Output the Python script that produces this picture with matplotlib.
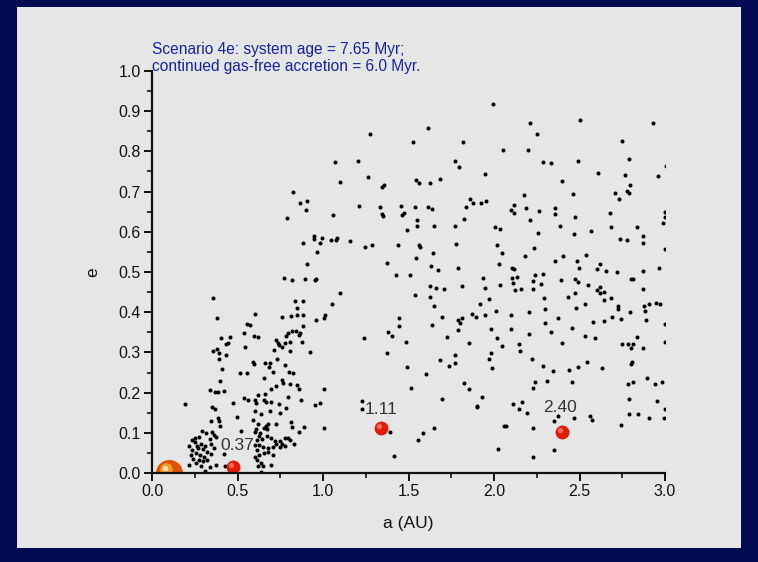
import numpy as np
import matplotlib.pyplot as plt
from matplotlib.patches import Rectangle
from matplotlib.transforms import offset_copy

plt.rcParams['font.family'] = ['Liberation Sans', 'DejaVu Sans']

# embryos / planetesimals: semi-major axis (AU) and eccentricity
a_small = [
    # 2.0 - 3.0 AU, e > 0.5
    2.21, 2.50, 2.93, 2.25, 2.75, 2.055, 2.197, 2.79, 2.287, 2.333, 2.491, 2.606,
    2.961, 2.766, 2.793, 2.396, 2.706, 2.733, 2.778, 2.791, 2.464, 2.173, 2.117,
    2.101, 2.119, 2.189, 2.265, 2.357, 2.355, 2.472, 2.212, 2.676, 2.998, 2.998,
    2.99, 2.008, 2.037, 2.388, 2.686, 2.836, 2.259, 2.47, 2.565, 2.869, 2.735,
    2.778, 2.869, 2.018, 2.232, 2.049, 2.179, 2.405, 2.536, 2.357, 2.485, 2.999,
    2.031, 2.105, 2.117, 2.618, 2.495, 2.604, 2.655, 2.721, 2.873, 2.967, 3.005,
    # 2.0 - 3.0 AU, e < 0.5
    2.103, 2.136, 2.238, 2.285, 2.035, 2.109, 2.23, 2.273, 2.123, 2.156, 2.23,
    2.39, 2.474, 2.493, 2.552, 2.80, 2.813, 2.871, 2.604, 2.62, 2.62, 2.643,
    2.643, 2.686, 2.294, 2.435, 2.474, 2.01, 2.099, 2.203, 2.30, 2.478, 2.532,
    2.723, 2.725, 2.795, 2.877, 2.906, 2.947, 2.973, 2.885, 2.372, 2.30, 2.579,
    2.643, 2.688, 2.745, 2.889, 2.998, 2.097, 2.331, 2.454, 2.019, 2.203, 2.532,
    2.593, 2.834, 2.047, 2.144, 2.396, 2.152, 2.749, 2.782, 2.815, 2.80, 2.869,
    2.998, 2.224, 2.287, 2.343, 2.439, 2.491, 2.546, 2.632, 2.809, 2.803, 2.238,
    2.23, 2.31, 2.454, 2.782, 2.811, 2.895, 2.942, 2.982, 2.788, 2.951, 2.111,
    2.162, 2.146, 2.195, 2.374, 2.351, 2.47, 2.561, 2.573, 2.743, 2.789, 2.842,
    2.906, 2.992, 2.998, 2.057, 2.07, 2.228, 2.021, 2.351, 2.228,
    # 1.0 - 2.0 AU, e > 0.5
    1.992, 1.275, 1.614, 1.528, 1.819, 1.070, 1.205, 1.77, 1.797, 1.945, 1.099,
    1.263, 1.347, 1.357, 1.544, 1.563, 1.624, 1.682, 1.862, 1.877, 1.926, 1.953,
    1.836, 1.827, 1.209, 1.333, 1.347, 1.349, 1.454, 1.462, 1.476, 1.54, 1.616,
    1.637, 1.552, 1.548, 1.651, 1.774, 1.489, 1.058, 1.045, 1.074, 1.084, 1.16,
    1.248, 1.287, 1.437, 1.559, 1.565, 1.78, 1.643, 1.372, 1.546, 1.63, 1.673,
    1.789,
    # 1.0 - 2.0 AU, e < 0.5
    1.427, 1.509, 1.097, 1.053, 1.01, 1.004, 1.238, 1.38, 1.405, 1.444, 1.442,
    1.483, 1.372, 1.489, 1.515, 1.60, 1.538, 1.628, 1.663, 1.706, 1.628, 1.647,
    1.815, 1.938, 1.947, 1.971, 1.92, 1.698, 1.637, 1.789, 1.801, 1.811, 1.871,
    1.893, 1.947, 1.788, 1.725, 1.852, 1.982, 1.98, 1.969, 1.99, 1.772, 1.686,
    1.739, 1.774, 1.825, 1.856, 1.93, 1.903, 1.899, 1.698, 1.008, 1.008, 1.226,
    1.226, 1.394, 1.585, 1.647, 1.554, 1.415,
    # 0.0 - 1.0 AU, e > 0.5
    0.823, 0.867, 0.904, 0.903, 0.789, 0.947, 0.947, 0.994, 0.981, 0.885, 0.963,
    0.906,
    # 0.0 - 1.0 AU, e < 0.5
    0.772, 0.817, 0.897, 0.953, 0.959, 0.357, 0.838, 0.881, 0.85, 0.602, 0.38,
    0.76, 0.811, 0.85, 0.881, 0.957, 0.556, 0.571, 0.885, 0.538, 0.595, 0.618,
    0.795, 0.819, 0.84, 0.864, 0.858, 0.402, 0.458, 0.433, 0.442, 0.382, 0.359,
    0.39, 0.433, 0.392, 0.542, 0.725, 0.735, 0.713, 0.741, 0.786, 0.776, 0.807,
    0.805, 0.875, 0.924, 0.76, 0.593, 0.596, 0.663, 0.688, 0.682, 0.731, 0.78,
    0.801, 0.827, 0.71, 0.515, 0.554, 0.411, 0.40, 0.655, 0.76, 0.766, 0.807,
    0.85, 0.858, 0.727, 0.698, 0.62, 0.659, 0.339, 0.366, 0.386, 0.421, 0.538,
    0.563, 0.474, 0.60, 0.61, 0.657, 0.665, 0.694, 0.745, 0.782, 0.795, 0.873,
    0.951, 0.982, 0.191, 0.353, 0.37, 0.60, 0.637, 0.692, 0.747, 0.384, 0.499,
    0.343, 0.39, 0.40, 0.593, 0.622, 0.667, 0.68, 0.725, 0.815, 0.817, 0.889,
    0.86, 0.655, 0.673, 0.606, 0.604, 0.632, 0.673, 0.519, 0.29, 0.316, 0.351,
    0.363, 0.374, 0.253, 0.273, 0.337, 0.234, 0.25, 0.214, 0.261, 0.287, 0.312,
    0.347, 0.363, 0.236, 0.267, 0.296, 0.324, 0.343, 0.23, 0.257, 0.279, 0.306,
    0.24, 0.273, 0.296, 0.322, 0.214, 0.255, 0.288, 0.312, 0.337, 0.376, 0.421,
    0.425, 0.624, 0.612, 0.643, 0.602, 0.628, 0.647, 0.614, 0.628, 0.653, 0.60,
    0.616, 0.637, 0.622, 0.647, 0.637, 0.694, 0.698, 0.721, 0.747, 0.727, 0.758,
    0.78, 0.793, 0.805, 0.828, 0.68, 0.71, 0.68, 0.776, 0.749, 0.706,
]
e_small = [
    0.871, 0.878, 0.870, 0.844, 0.825, 0.803, 0.804, 0.781, 0.773, 0.770, 0.777, 0.747,
    0.739, 0.742, 0.716, 0.727, 0.696, 0.682, 0.702, 0.697, 0.695, 0.692, 0.667,
    0.654, 0.648, 0.658, 0.651, 0.660, 0.644, 0.637, 0.629, 0.647, 0.649, 0.638,
    0.623, 0.613, 0.606, 0.615, 0.612, 0.613, 0.597, 0.595, 0.601, 0.590, 0.582,
    0.579, 0.572, 0.568, 0.560, 0.547, 0.539, 0.541, 0.542, 0.527, 0.527, 0.558,
    0.520, 0.510, 0.507, 0.520, 0.509, 0.507, 0.502, 0.499, 0.502, 0.511, 0.764,
    0.486, 0.488, 0.493, 0.495, 0.468, 0.472, 0.477, 0.469, 0.454, 0.457, 0.457,
    0.481, 0.483, 0.474, 0.468, 0.482, 0.483, 0.458, 0.454, 0.463, 0.447, 0.450,
    0.430, 0.436, 0.436, 0.437, 0.449, 0.403, 0.392, 0.400, 0.409, 0.410, 0.420,
    0.415, 0.407, 0.401, 0.415, 0.420, 0.424, 0.421, 0.402, 0.386, 0.372, 0.376,
    0.379, 0.388, 0.384, 0.381, 0.371, 0.359, 0.350, 0.360, 0.337, 0.345, 0.342,
    0.335, 0.338, 0.316, 0.321, 0.323, 0.303, 0.321, 0.321, 0.320, 0.310, 0.311,
    0.325, 0.283, 0.266, 0.254, 0.255, 0.264, 0.276, 0.260, 0.276, 0.271, 0.226,
    0.212, 0.230, 0.227, 0.221, 0.227, 0.237, 0.221, 0.227, 0.183, 0.179, 0.172,
    0.177, 0.158, 0.150, 0.141, 0.129, 0.138, 0.143, 0.132, 0.120, 0.148, 0.147,
    0.138, 0.138, 0.158, 0.118, 0.117, 0.111, 0.060, 0.056, 0.039,
    0.918, 0.844, 0.859, 0.824, 0.823, 0.773, 0.776, 0.775, 0.760, 0.744, 0.723,
    0.737, 0.711, 0.716, 0.729, 0.722, 0.721, 0.731, 0.681, 0.671, 0.672, 0.677,
    0.662, 0.632, 0.664, 0.661, 0.644, 0.640, 0.663, 0.643, 0.646, 0.661, 0.661,
    0.656, 0.630, 0.614, 0.614, 0.614, 0.604, 0.641, 0.580, 0.580, 0.584, 0.577,
    0.561, 0.568, 0.568, 0.568, 0.563, 0.570, 0.548, 0.522, 0.535, 0.514, 0.504,
    0.509,
    0.493, 0.493, 0.448, 0.421, 0.392, 0.386, 0.336, 0.351, 0.342, 0.386, 0.365,
    0.325, 0.299, 0.263, 0.212, 0.247, 0.442, 0.464, 0.459, 0.457, 0.437, 0.415,
    0.466, 0.485, 0.459, 0.434, 0.421, 0.388, 0.367, 0.380, 0.374, 0.386, 0.395,
    0.389, 0.393, 0.355, 0.339, 0.323, 0.359, 0.299, 0.284, 0.260, 0.294, 0.280,
    0.267, 0.273, 0.225, 0.209, 0.188, 0.167, 0.163, 0.184, 0.208, 0.113, 0.178,
    0.160, 0.103, 0.100, 0.111, 0.081, 0.043,
    0.699, 0.672, 0.676, 0.655, 0.634, 0.589, 0.583, 0.584, 0.571, 0.571, 0.550,
    0.521,
    0.485, 0.480, 0.482, 0.480, 0.483, 0.435, 0.428, 0.428, 0.410, 0.396, 0.386,
    0.389, 0.391, 0.392, 0.393, 0.380, 0.371, 0.369, 0.365, 0.348, 0.340, 0.339,
    0.349, 0.354, 0.354, 0.348, 0.344, 0.337, 0.339, 0.320, 0.323, 0.309, 0.304,
    0.299, 0.294, 0.284, 0.313, 0.330, 0.324, 0.305, 0.318, 0.342, 0.323, 0.326,
    0.303, 0.325, 0.301, 0.314, 0.276, 0.271, 0.274, 0.274, 0.264, 0.284, 0.269,
    0.252, 0.250, 0.251, 0.250, 0.249, 0.259, 0.229, 0.236, 0.232, 0.224, 0.222,
    0.220, 0.208, 0.216, 0.208, 0.195, 0.197, 0.206, 0.201, 0.201, 0.204, 0.187,
    0.181, 0.174, 0.181, 0.174, 0.182, 0.177, 0.176, 0.172, 0.162, 0.188, 0.182,
    0.169, 0.173, 0.172, 0.165, 0.158, 0.155, 0.146, 0.153, 0.149, 0.138, 0.140,
    0.129, 0.129, 0.118, 0.131, 0.122, 0.117, 0.122, 0.122, 0.126, 0.114, 0.114,
    0.103, 0.113, 0.109, 0.110, 0.103, 0.100, 0.092, 0.104, 0.104, 0.099, 0.102,
    0.095, 0.090, 0.087, 0.089, 0.085, 0.081, 0.076, 0.068, 0.068, 0.072, 0.068,
    0.071, 0.063, 0.056, 0.061, 0.060, 0.053, 0.048, 0.045, 0.049, 0.045, 0.041,
    0.034, 0.032, 0.030, 0.033, 0.019, 0.024, 0.017, 0.005, 0.016, 0.021, 0.048,
    0.018, 0.092, 0.081, 0.085, 0.070, 0.069, 0.065, 0.056, 0.046, 0.049, 0.039,
    0.032, 0.026, 0.017, 0.017, 0.002, 0.019, 0.086, 0.079, 0.079, 0.071, 0.072,
    0.088, 0.088, 0.081, 0.072, 0.063, 0.065, 0.052, 0.068, 0.064, 0.044,
]

# surviving planets (labelled with their masses)
planet_a = [0.472, 1.339, 2.396]
planet_e = [0.014, 0.113, 0.102]
planet_labels = ['0.37', '1.11', '2.40']
label_offsets = [(-12, 17), (-16, 14), (-19, 20)]  # pixels

# the gas giant sitting at the inner edge
giant_a = [0.10]
giant_e = [0.0]

fig = plt.figure(figsize=(7.58, 5.62), dpi=100, facecolor='#020a52')
fig.patches.append(Rectangle((17 / 758, 14 / 562), 724 / 758, 541 / 562,
                             transform=fig.transFigure, facecolor='#e6e6e6',
                             edgecolor='none', zorder=-10))

ax = fig.add_axes([152 / 758, 1 - 473 / 562, 513 / 758, 402 / 562])
ax.set_facecolor('none')

ax.plot(a_small, e_small, 'o', color='black', markersize=2.9,
        markeredgewidth=0, zorder=3)

# shaded "spheres": base disc plus offset highlights
hl1 = offset_copy(ax.transData, fig=fig, x=-3, y=4, units='dots')
hl2 = offset_copy(ax.transData, fig=fig, x=-4, y=5, units='dots')
ax.plot(giant_a, giant_e, 'o', color='#df5200', markersize=19.5,
        markeredgewidth=0, zorder=4)
ax.plot(giant_a, giant_e, 'o', color='#f39a2a', markersize=9,
        markeredgewidth=0, transform=hl1, zorder=5)
ax.plot(giant_a, giant_e, 'o', color='#fde0b0', markersize=4,
        markeredgewidth=0, transform=hl2, zorder=6)

hl3 = offset_copy(ax.transData, fig=fig, x=-2, y=2, units='dots')
ax.plot(planet_a, planet_e, 'o', color='#e31c0a', markersize=10,
        markeredgewidth=0, zorder=4)
ax.plot(planet_a, planet_e, 'o', color='#f46a55', markersize=3.8,
        markeredgewidth=0, transform=hl3, zorder=5)

for x, y, txt, off in zip(planet_a, planet_e, planet_labels, label_offsets):
    ax.annotate(txt, (x, y), xytext=off, textcoords='offset pixels',
                fontsize=12.5, color='#333333', ha='left', va='baseline')

ax.set_xlim(0, 3.0)
ax.set_ylim(0, 1.0)
ax.set_xticks(np.arange(0, 3.01, 0.5))
ax.set_xticks(np.arange(0.25, 3.0, 0.5), minor=True)
ax.set_yticks(np.arange(0, 1.01, 0.1))
ax.set_yticks(np.arange(0.05, 1.0, 0.1), minor=True)
ax.xaxis.set_major_formatter(plt.FormatStrFormatter('%.1f'))
ax.yaxis.set_major_formatter(plt.FormatStrFormatter('%.1f'))

for side in ('top', 'right'):
    ax.spines[side].set_visible(False)
for side in ('left', 'bottom'):
    ax.spines[side].set_linewidth(1.6)
    ax.spines[side].set_color('#111111')
    ax.spines[side].set_zorder(7)

ax.tick_params(which='major', direction='out', length=6, width=1.4,
               color='#111111', labelsize=11.5, labelcolor='#111111', pad=2)
ax.tick_params(which='minor', direction='out', length=3.5, width=1.2,
               color='#111111')

ax.set_xlabel('a (AU)', fontsize=12.5, color='#111111', labelpad=12)
ax.set_ylabel('e', fontsize=12.5, color='#111111', labelpad=13)

ax.text(0.0, 1.0, 'Scenario 4e: system age = 7.65 Myr;\n'
        'continued gas-free accretion = 6.0 Myr.',
        transform=ax.transAxes, fontsize=11.2, color='#16239c',
        ha='left', va='baseline', linespacing=1.2)

fig.savefig('out.png', dpi=100, facecolor=fig.get_facecolor())
